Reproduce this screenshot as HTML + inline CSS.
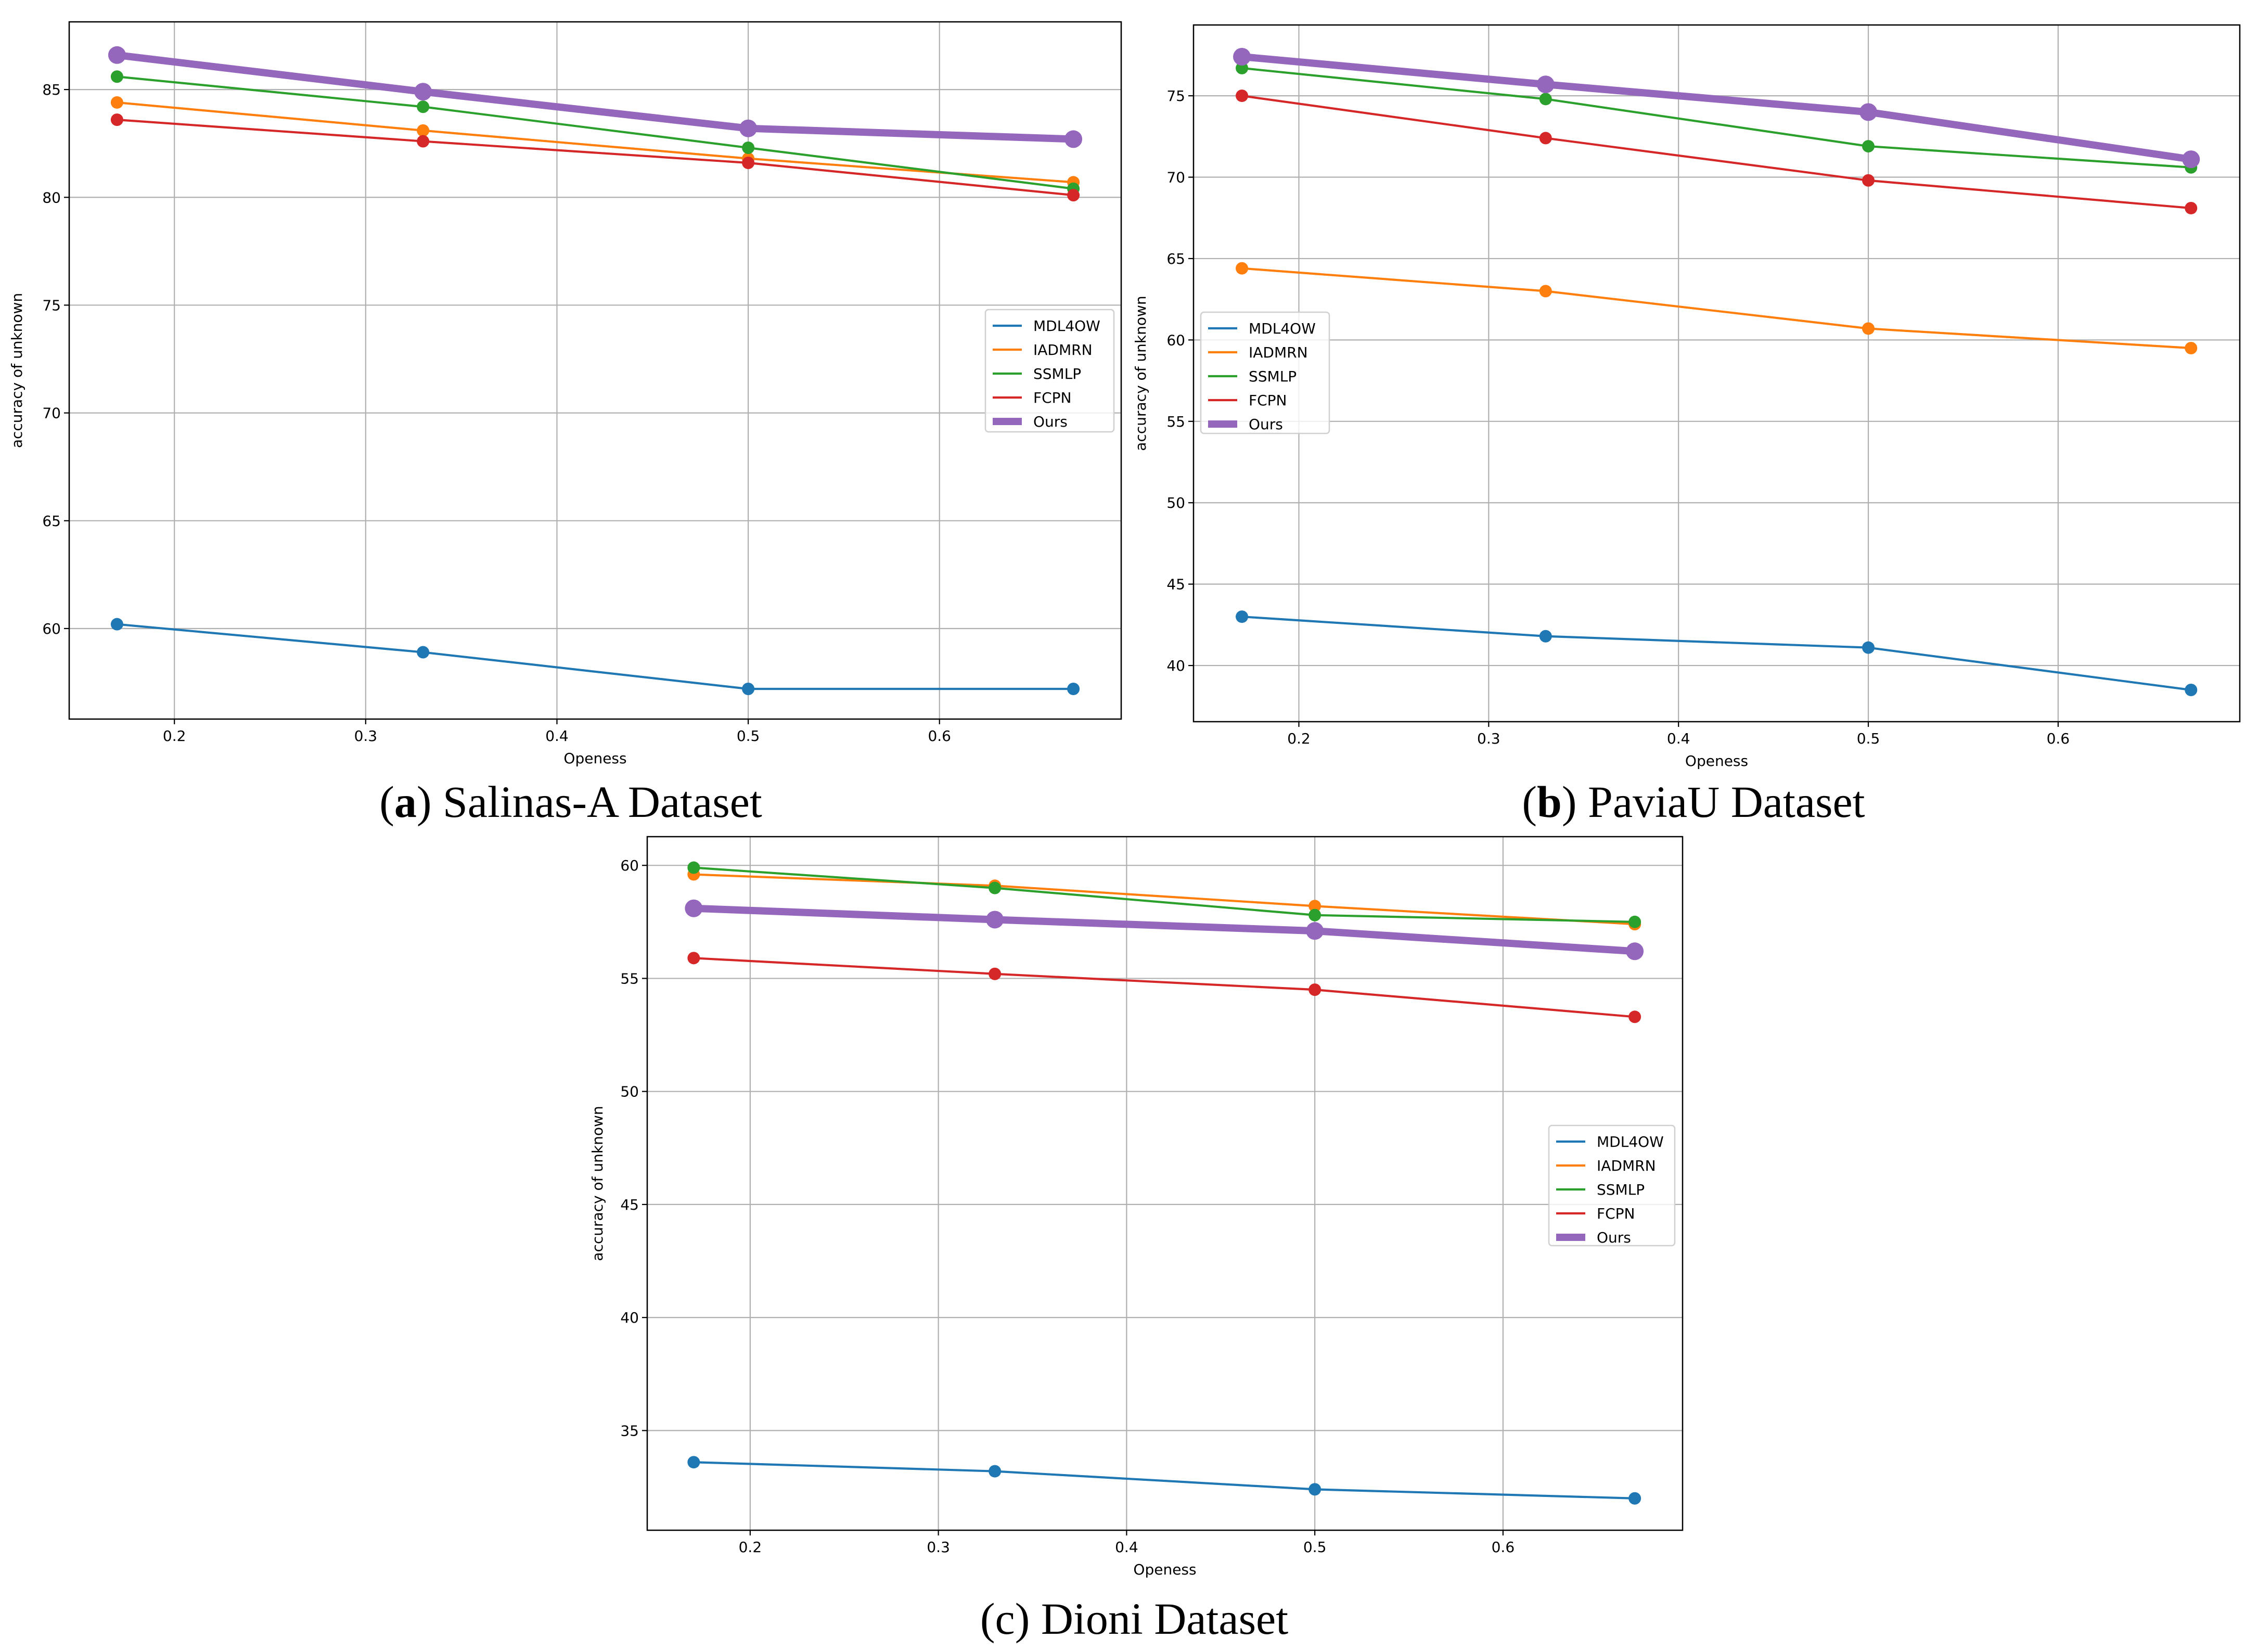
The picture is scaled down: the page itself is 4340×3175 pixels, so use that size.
<!DOCTYPE html>
<html><head><meta charset="utf-8"><style>
html,body{margin:0;padding:0;background:#fff;}
svg{display:block;font-family:"DejaVu Sans","Liberation Sans",sans-serif;}
</style></head><body>
<svg id="fig" width="4340" height="3175" viewBox="0 0 4340 3175" xmlns="http://www.w3.org/2000/svg">
<text x="1097" y="1570" text-anchor="middle" font-family="Liberation Serif, serif" font-size="86">(<tspan font-weight="bold">a</tspan>) Salinas-A Dataset</text>
<text x="3255" y="1570" text-anchor="middle" font-family="Liberation Serif, serif" font-size="86">(<tspan font-weight="bold">b</tspan>) PaviaU Dataset</text>
<text x="2180" y="3140" text-anchor="middle" font-family="Liberation Serif, serif" font-size="86">(c) Dioni Dataset</text>
</svg>
<script>
const xValues = [0.17, 0.33, 0.5, 0.67];
const seriesNames = ["MDL4OW", "IADMRN", "SSMLP", "FCPN", "Ours"];
const seriesColors = ["#1f77b4", "#ff7f0e", "#2ca02c", "#d62728", "#9467bd"];
const xTicks = [0.2, 0.3, 0.4, 0.5, 0.6];
const xTickLabels = ["0.2", "0.3", "0.4", "0.5", "0.6"];
const aMDL4OW = [60.2, 58.9, 57.2, 57.2];
const aIADMRN = [84.4, 83.1, 81.8, 80.7];
const aSSMLP = [85.6, 84.2, 82.3, 80.4];
const aFCPN = [83.6, 82.6, 81.6, 80.1];
const aOurs = [86.6, 84.9, 83.2, 82.7];
const aYTicks = [60, 65, 70, 75, 80, 85];
const bMDL4OW = [43.0, 41.8, 41.1, 38.5];
const bIADMRN = [64.4, 63.0, 60.7, 59.5];
const bSSMLP = [76.7, 74.8, 71.9, 70.6];
const bFCPN = [75.0, 72.4, 69.8, 68.1];
const bOurs = [77.4, 75.7, 74.0, 71.1];
const bYTicks = [40, 45, 50, 55, 60, 65, 70, 75];
const cMDL4OW = [33.6, 33.2, 32.4, 32.0];
const cIADMRN = [59.6, 59.1, 58.2, 57.4];
const cSSMLP = [59.9, 59.0, 57.8, 57.5];
const cFCPN = [55.9, 55.2, 54.5, 53.3];
const cOurs = [58.1, 57.6, 57.1, 56.2];
const cYTicks = [35, 40, 45, 50, 55, 60];

const NS = "http://www.w3.org/2000/svg";
const svg = document.getElementById("fig");
function mk(tag, attrs, parent) {
  const e = document.createElementNS(NS, tag);
  for (const k in attrs) e.setAttribute(k, attrs[k]);
  (parent || svg).appendChild(e);
  return e;
}
function panel(id, box, xd, yd, yTicks, series, legend, ylabX) {
  const g = mk("g", {});
  
  
  const [L, T, R, B] = box;
  const sx = v => L + (v - xd[0]) / (xd[1] - xd[0]) * (R - L);
  const sy = v => B - (v - yd[0]) / (yd[1] - yd[0]) * (B - T);
  xTicks.forEach((t, i) => {
    const x = sx(t);
    const gl = mk("line", {x1: x, x2: x, y1: T, y2: B, stroke: "#b0b0b0", "stroke-width": 2.2}, g);
    
    
    mk("line", {x1: x, x2: x, y1: B, y2: B + 10, stroke: "#000", "stroke-width": 2.2}, g);
    const tl = mk("text", {x: x, y: B + 42, "text-anchor": "middle", "font-size": 28}, g);
    tl.textContent = xTickLabels[i];
    
    
  });
  yTicks.forEach(t => {
    const y = sy(t);
    const gl = mk("line", {x1: L, x2: R, y1: y, y2: y, stroke: "#b0b0b0", "stroke-width": 2.2}, g);
    
    
    mk("line", {x1: L - 10, x2: L, y1: y, y2: y, stroke: "#000", "stroke-width": 2.2}, g);
    const tl = mk("text", {x: L - 16, y: y + 10, "text-anchor": "end", "font-size": 28}, g);
    tl.textContent = t;
    
    
  });
  series.forEach((vals, si) => {
    const ours = si === 4;
    const pts = vals.map((v, i) => sx(xValues[i]) + "," + sy(v)).join(" ");
    const pl = mk("polyline", {points: pts, fill: "none", stroke: seriesColors[si], "stroke-width": ours ? 14 : 4.2, "stroke-linejoin": "round"}, g);
    
    
    vals.forEach((v, i) => {
      const c = mk("circle", {cx: sx(xValues[i]), cy: sy(v), r: ours ? 17 : 12, fill: seriesColors[si]}, g);
      
      
    });
  });
  const fr = mk("rect", {x: L, y: T, width: R - L, height: B - T, fill: "none", stroke: "#000", "stroke-width": 2.5}, g);
  
  
  const xl = mk("text", {x: (L + R) / 2, y: B + 85, "text-anchor": "middle", "font-size": 28}, g);
  xl.textContent = "Openess";
  
  
  const ym = (T + B) / 2;
  const yl = mk("text", {x: ylabX, y: ym, "text-anchor": "middle", "font-size": 28, transform: "rotate(-90 " + ylabX + " " + ym + ")"}, g);
  yl.textContent = "accuracy of unknown";
  
  
  const [lx, ly, lw, lh] = legend;
  const lg = mk("g", {}, g);
  
  
  mk("rect", {x: lx, y: ly, width: lw, height: lh, rx: 6, fill: "#fff", "fill-opacity": 0.8, stroke: "#d0d0d0", "stroke-width": 2.5}, lg);
  seriesNames.forEach((n, si) => {
    const yy = ly + 31 + si * 46;
    const ll = mk("line", {x1: lx + 14, x2: lx + 70, y1: yy, y2: yy, stroke: seriesColors[si], "stroke-width": si === 4 ? 14 : 4.2}, lg);
    
    
    const t = mk("text", {x: lx + 92, y: yy + 10, "font-size": 28}, lg);
    t.textContent = n;
    
    
  });
}
panel("a", [133, 42, 2155, 1382], [0.145, 0.695], [55.8, 88.14], aYTicks,
  [aMDL4OW, aIADMRN, aSSMLP, aFCPN, aOurs], [1894, 595, 247, 235], 42);
panel("b", [2294, 48, 4305, 1387], [0.1445, 0.6957], [36.55, 79.35], bYTicks,
  [bMDL4OW, bIADMRN, bSSMLP, bFCPN, bOurs], [2308, 600, 247, 233], 2202);
panel("c", [1244, 1608, 3234, 2941], [0.1453, 0.6954], [30.59, 61.27], cYTicks,
  [cMDL4OW, cIADMRN, cSSMLP, cFCPN, cOurs], [2977, 2163, 242, 231], 1158);
</script>
</body></html>
